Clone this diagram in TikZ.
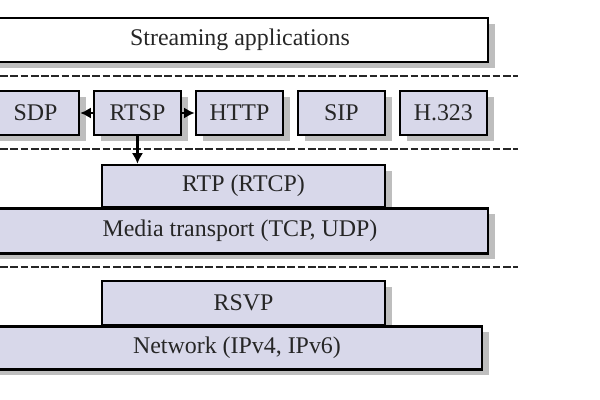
\documentclass[tikz,border=0pt]{standalone}
\usepackage{fontspec}
\setmainfont{Liberation Serif}
\usetikzlibrary{shadows}
\usetikzlibrary{arrows.meta}
\usetikzlibrary{positioning}
\definecolor{layerfill}{RGB}{216,216,234}
\definecolor{shadowgray}{RGB}{190,190,190}

\begin{document}
\begin{tikzpicture}[x=0.025cm,y=-0.025cm]

%\draw[help lines] (0,0) grid[step=50] (600,400);
\path[use as bounding box] (0,0) rectangle (600,400);
\clip (0,0) rectangle (600,400);

% Define block styles
\tikzstyle{proto}=[draw, line width=1.8pt, fill=layerfill, text=black!85,
  font=\fontsize{17}{20}\selectfont, minimum width=2.175cm,
  minimum height=1.1cm, inner sep=0pt,
  drop shadow={shadow xshift=0.18cm, shadow yshift=-0.15cm,
    fill=shadowgray, opacity=1}]
\tikzstyle{layer} = [proto, minimum width=12.4cm]
\tikzstyle{sublayer} = [proto, minimum width=7.075cm, minimum height=1.05cm]
\tikzstyle{line} = [draw, line width=1.5pt, -{Latex[length=7.5pt,width=8pt]}]
\tikzstyle{sep} = [draw, line width=1.6pt, color=black!85,
  dash pattern=on 5.5pt off 1.8pt]

% Define distance between protocol boxes
\newcommand{\protodist}{0.31cm}

% Application layer
\node[layer, fill=white] (apps) at (240,40) {Streaming applications};

% Session protocols
\node[proto] (sdp) at (35.5,113) {SDP};
\node[proto, right=\protodist of sdp] (rtsp) {RTSP};
\node[proto, right=\protodist of rtsp] (http) {HTTP};
\node[proto, right=\protodist of http] (sip) {SIP};
\node[proto, right=\protodist of sip] (h323) {H.323};

% Transport
\node[sublayer] (rtp) at (243.5,186) {RTP (RTCP)};
\node[layer, minimum height=1.125cm, anchor=north] (media) at (240,207)
  {Media transport (TCP, UDP)};

% Network
\node[sublayer, minimum height=1.1cm] (rsvp) at (243.5,303) {RSVP};
\node[layer, minimum width=12.25cm, minimum height=1.075cm, anchor=north]
  (net) at (237,325) {Network (IPv4, IPv6)};

% Separators
\path[sep] (0,76) -- (518,76);
\path[sep] (0,149) -- (518,149);
\path[sep] (0,267) -- (518,267);

% Connectors
\path[line] (rtsp) -- (sdp);
\path[line] (rtsp) -- (http);
\path[line] (rtsp) -- (rtsp |- rtp.north);

\end{tikzpicture}
\end{document}
